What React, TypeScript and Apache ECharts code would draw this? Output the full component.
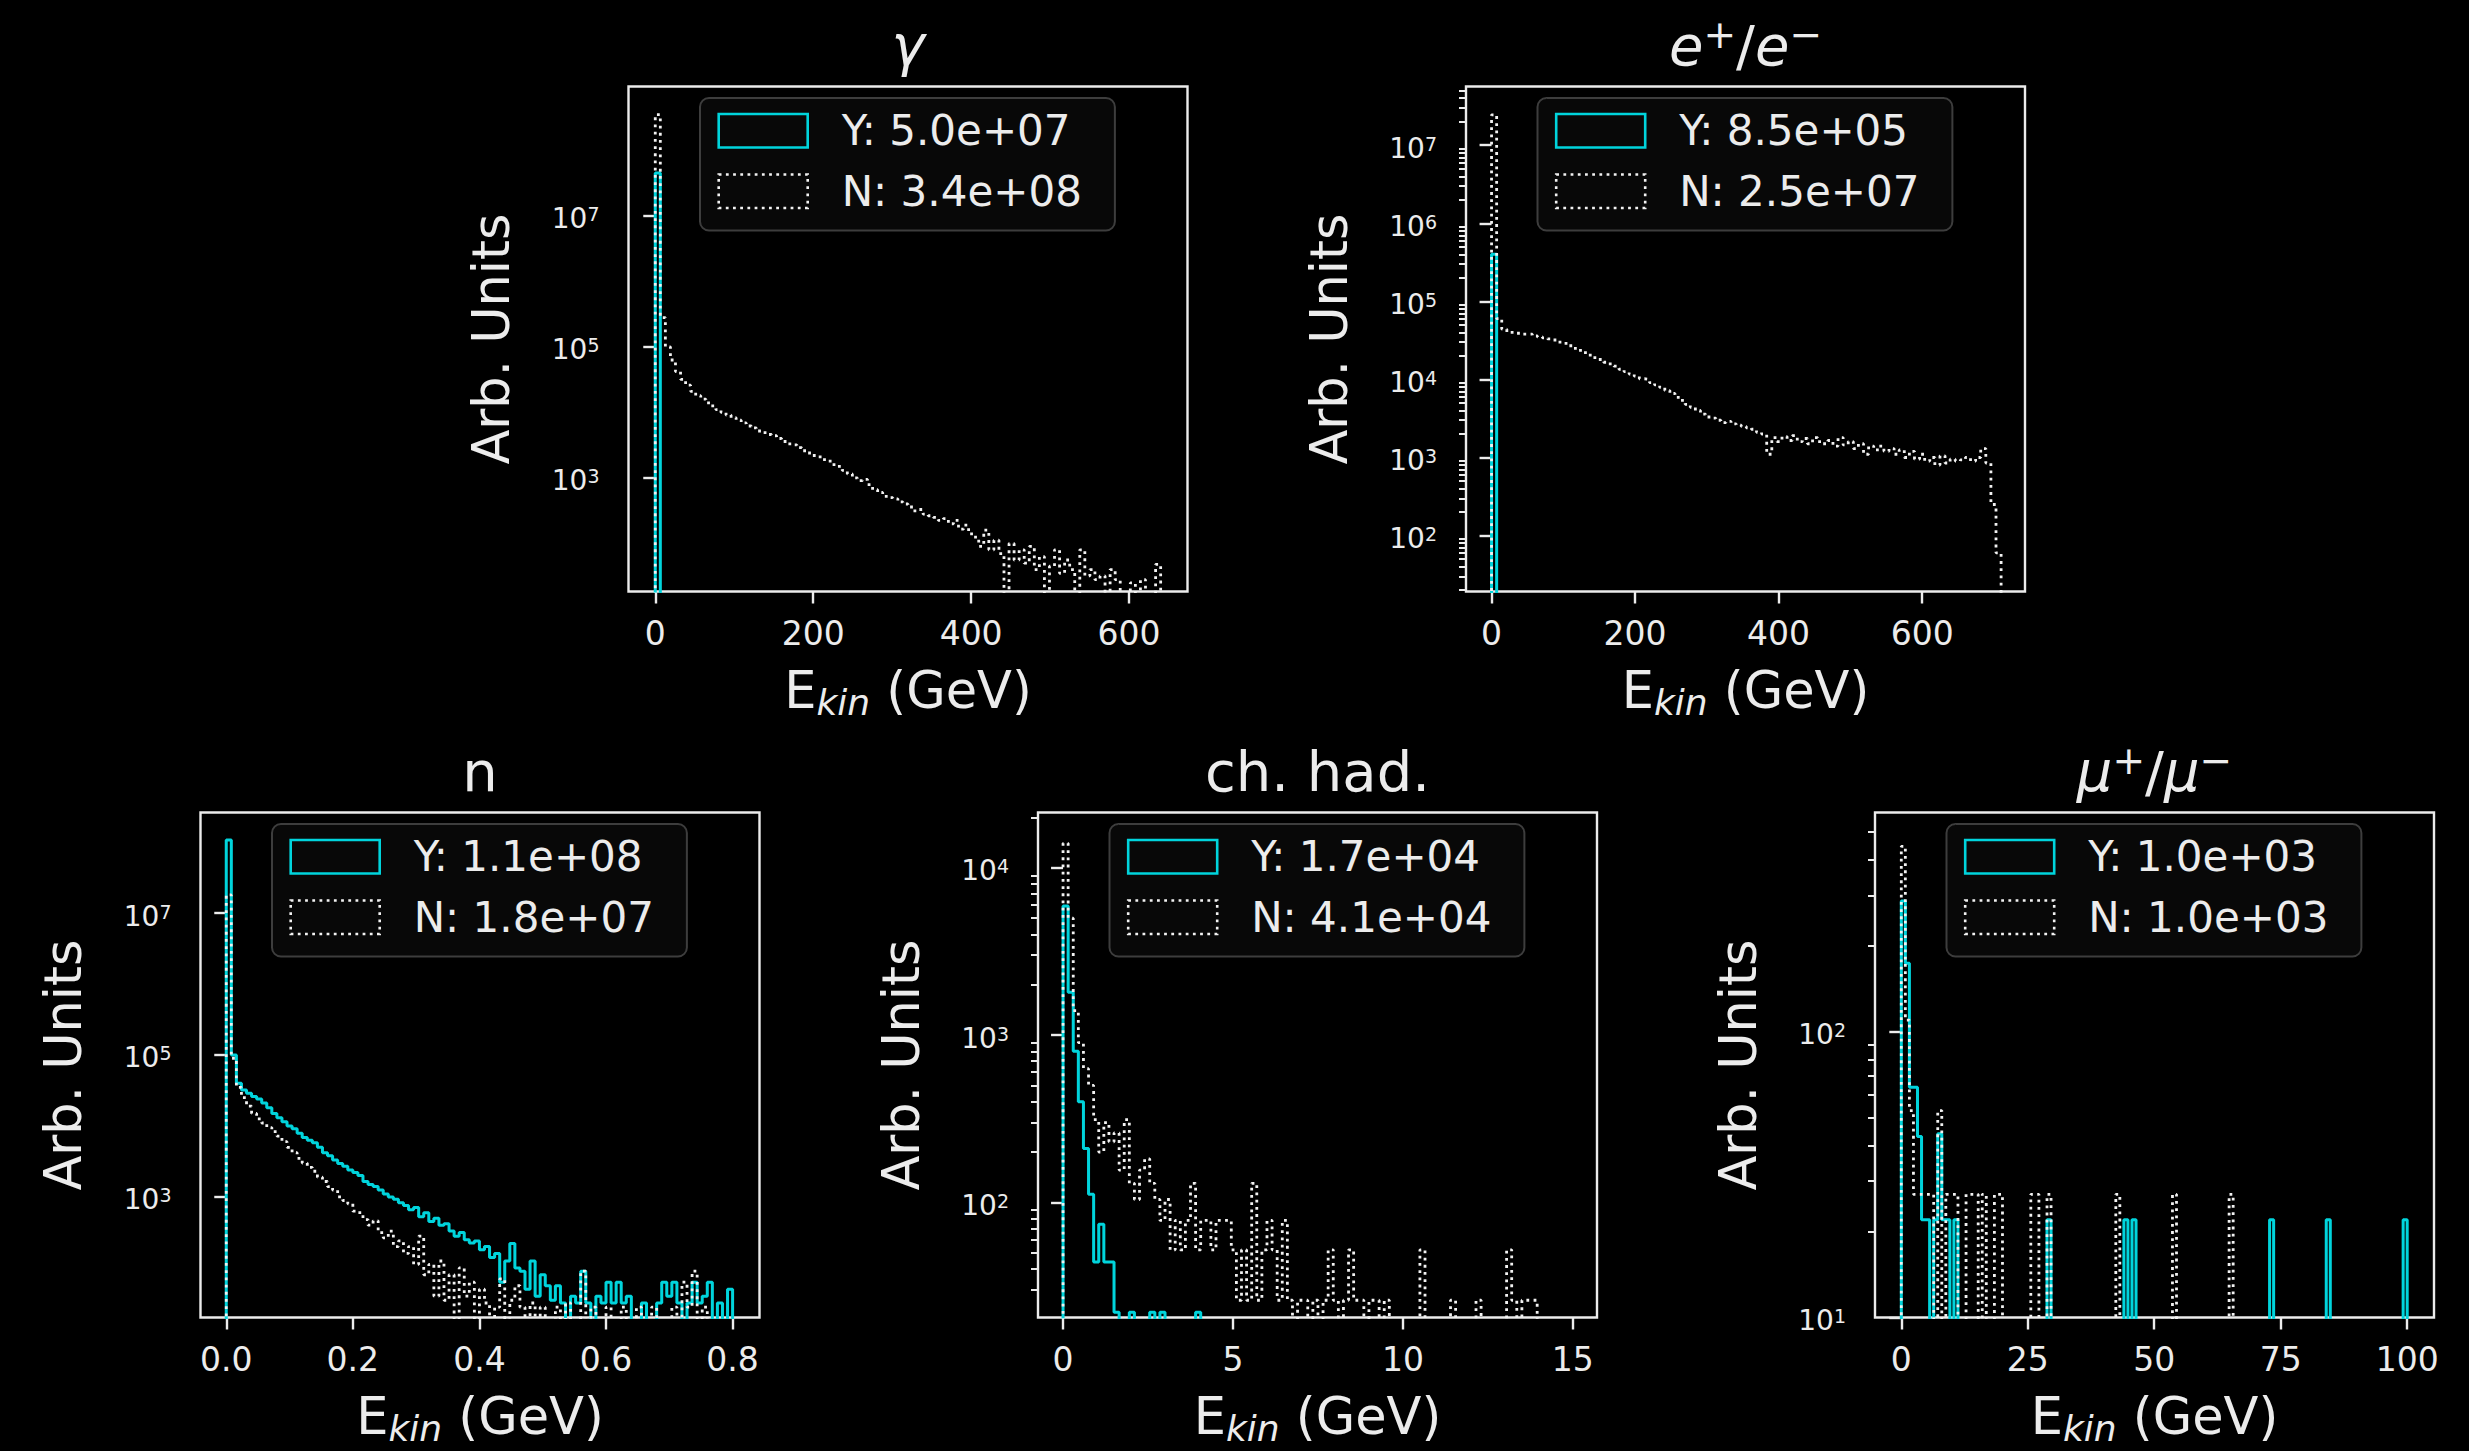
import React, { useEffect, useRef } from 'react';
import * as echarts from 'echarts';

const WIDTH = 2469;
const HEIGHT = 1451;

// ---------------- data: histogram bin contents ----------------
// photons, bins of 6.4 GeV starting at 0
const gammaBinWidth = 6.4;
const gammaY = [4.5e7];
const gammaN = [
  3.5e8, 2.8e5, 1.0e5, 6.3e4, 4.2e4, 3.2e4, 2.6e4, 2.1e4, 1.8e4, 1.6e4,
  1.4e4, 1.26e4, 1.1e4, 1.0e4, 9.1e3, 8.3e3, 7.6e3, 6.9e3, 6.2e3, 5.8e3,
  5.2e3, 4.9e3, 4.6e3, 4.4e3, 4.0e3, 3.6e3, 3.3e3, 3.2e3, 2.9e3, 2.6e3,
  2.4e3, 2.2e3, 2.1e3, 1.9e3, 1.8e3, 1.6e3, 1.5e3, 1.3e3, 1.15e3, 1.0e3,
  910, 950, 790, 660, 600, 525, 500, 480, 430, 400,
  360, 315, 330, 280, 265, 250, 225, 240, 200, 225,
  165, 190, 140, 125, 90, 160, 80, 112, 70, 0,
  100, 56, 80, 50, 90, 40, 63, 0, 45, 80,
  35, 56, 40, 0, 80, 32, 40, 28, 32, 0,
  40, 28, 0, 0, 25, 0, 28, 0, 0, 48,
];

// electrons / positrons, bins of 7.1 GeV
const eeBinWidth = 7.1;
const eeY = [4.0e5];
const eeN = [
  2.45e7, 6.0e4, 4.4e4, 4.0e4, 4.0e4, 3.9e4, 3.8e4, 3.8e4, 3.6e4, 3.5e4,
  3.4e4, 3.3e4, 3.2e4, 3.0e4, 2.9e4, 2.7e4, 2.5e4, 2.35e4, 2.2e4, 2.05e4,
  1.9e4, 1.8e4, 1.66e4, 1.58e4, 1.48e4, 1.35e4, 1.26e4, 1.17e4, 1.1e4, 1.02e4,
  1.0e4, 9.1e3, 8.5e3, 7.9e3, 7.2e3, 6.6e3, 5.9e3, 5.4e3, 4.8e3, 4.4e3,
  4.0e3, 3.6e3, 3.3e3, 3.2e3, 3.0e3, 2.8e3, 2.9e3, 2.7e3, 2.6e3, 2.5e3,
  2.4e3, 2.3e3, 2.1e3, 2.0e3, 1.1e3, 1.8e3, 1.6e3, 1.85e3, 1.65e3, 1.9e3,
  1.6e3, 1.75e3, 1.5e3, 1.8e3, 1.6e3, 1.5e3, 1.65e3, 1.4e3, 1.8e3, 1.45e3,
  1.6e3, 1.3e3, 1.5e3, 1.1e3, 1.4e3, 1.25e3, 1.4e3, 1.2e3, 1.3e3, 1.1e3,
  1.25e3, 1.0e3, 1.2e3, 950, 1.1e3, 900, 1.0e3, 800, 1.05e3, 850,
  950, 900, 930, 1.0e3, 900, 1.0e3, 1.3e3, 850, 250, 60,
];

// neutrons, bins of 0.008 GeV
const nBinWidth = 0.008;
const nY = [
  1.07e8, 1.0e5, 4.0e4, 3.2e4, 2.9e4, 2.6e4, 2.4e4, 2.1e4, 1.8e4, 1.5e4,
  1.3e4, 1.15e4, 1.0e4, 9.1e3, 7.9e3, 6.9e3, 6.3e3, 5.8e3, 5.0e3, 4.2e3,
  3.8e3, 3.3e3, 2.95e3, 2.7e3, 2.4e3, 2.2e3, 2.0e3, 1.65e3, 1.5e3, 1.4e3,
  1.25e3, 1.1e3, 1.0e3, 930, 830, 760, 660, 710, 525, 600,
  450, 500, 400, 420, 330, 280, 315, 250, 225, 240,
  180, 200, 140, 160, 63, 125, 220, 100, 90, 50,
  125, 40, 80, 56, 35, 56, 32, 0, 40, 32,
  90, 32, 0, 40, 32, 63, 32, 63, 32, 40,
  0, 0, 32, 0, 0, 32, 63, 40, 63, 32,
  0, 32, 63, 32, 40, 63, 0, 32, 0, 50,
];
const nN = [
  1.8e7, 9.0e4, 3.5e4, 2.5e4, 1.9e4, 1.5e4, 1.26e4, 1.1e4, 9.5e3, 8.3e3,
  7.2e3, 6.0e3, 5.0e3, 4.2e3, 3.5e3, 3.0e3, 2.6e3, 2.3e3, 1.9e3, 1.65e3,
  1.4e3, 1.25e3, 1.0e3, 890, 800, 630, 600, 480, 400, 460,
  315, 265, 330, 200, 240, 160, 200, 112, 280, 80,
  112, 40, 125, 35, 80, 0, 100, 40, 63, 0,
  50, 32, 0, 28, 70, 0, 35, 56, 28, 0,
  32, 0, 28, 0, 0, 28, 0, 32, 0, 0,
  90, 0, 28, 0, 0, 28, 0, 0, 28, 0,
  0, 28, 0, 0, 28, 0, 0, 0, 28, 0,
  63, 28, 90, 0, 28,
];

// charged hadrons, bins of 0.15 GeV
const chBinWidth = 0.15;
const chY = [
  5900, 1800, 800, 400, 210, 112, 44, 74, 44, 44,
  22, 0, 0, 22, 0, 0, 0, 22, 0, 22,
  0, 0, 0, 0, 0, 0, 22,
];
const chN = [
  1.4e4, 5000, 1400, 900, 630, 500, 312, 200, 300, 230,
  260, 156, 312, 130, 104, 156, 182, 130, 104, 78,
  104, 52, 78, 52, 78, 130, 52, 78, 78, 52,
  78, 78, 78, 52, 26, 52, 26, 130, 26, 52,
  78, 52, 26, 78, 26, 0, 26, 26, 0, 26,
  0, 26, 52, 26, 0, 26, 52, 26, 26, 0,
  26, 26, 0, 26, 0, 0, 0, 0, 0, 0,
  52, 0, 0, 0, 0, 0, 26, 0, 0, 0,
  0, 26, 0, 0, 0, 0, 0, 52, 26, 0,
  26, 26, 26,
];

// muons, bins of 0.8 GeV
const muBinWidth = 0.8;
const muY = [
  287, 174, 64, 64, 43, 22, 22, 0, 22, 44, 22, 22, 0, 22, 0, 0, 0, 0, 0, 0, 0, 0, 0, 0, 0,
  0, 0, 0, 0, 0, 0, 0, 0, 0, 0, 0, 22, 0, 0, 0, 0, 0, 0, 0, 0, 0, 0, 0, 0, 0,
  0, 0, 0, 0, 0, 22, 0, 22, 0, 0, 0, 0, 0, 0, 0, 0, 0, 0, 0, 0, 0, 0, 0, 0, 0,
  0, 0, 0, 0, 0, 0, 0, 0, 0, 0, 0, 0, 0, 0, 0, 0, 22, 0, 0, 0, 0, 0, 0, 0, 0,
  0, 0, 0, 0, 0, 22, 0, 0, 0, 0, 0, 0, 0, 0, 0, 0, 0, 0, 0, 0, 0, 0, 0, 0, 22,
];
const muN = [
  446, 110, 53, 27, 27, 27, 27, 27, 0, 53, 0, 27, 27, 27, 0, 0, 27, 27, 27, 0, 27, 0, 0, 27, 27,
  0, 0, 0, 0, 0, 0, 0, 27, 27, 0, 0, 27, 0, 0, 0, 0, 0, 0, 0, 0, 0, 0, 0, 0, 0,
  0, 0, 0, 27, 0, 0, 0, 0, 0, 0, 0, 0, 0, 0, 0, 0, 0, 27, 0, 0, 0, 0, 0, 0, 0,
  0, 0, 0, 0, 0, 0, 27,
];

// ---------------- labels / ticks ----------------
const panelTitles = [
  '{i|γ}',
  '{i|e}{s|+}{n|/}{i|e}{s|−}',
  '{n|n}',
  '{n|ch. had.}',
  '{i|μ}{s|+}{n|/}{i|μ}{s|−}',
];
const legendY = ['Y: 5.0e+07', 'Y: 8.5e+05', 'Y: 1.1e+08', 'Y: 1.7e+04', 'Y: 1.0e+03'];
const legendN = ['N: 3.4e+08', 'N: 2.5e+07', 'N: 1.8e+07', 'N: 4.1e+04', 'N: 1.0e+03'];
const xTicks = [
  [0, 200, 400, 600],
  [0, 200, 400, 600],
  [0, 0.2, 0.4, 0.6, 0.8],
  [0, 5, 10, 15],
  [0, 25, 50, 75, 100],
];
const xDecimals = [0, 0, 1, 0, 0];
const yMajor = [
  [1e3, 1e5, 1e7],
  [1e2, 1e3, 1e4, 1e5, 1e6, 1e7],
  [1e3, 1e5, 1e7],
  [1e2, 1e3, 1e4],
  [1e1, 1e2],
];
const hasMinor = [false, true, false, true, true];
const xRange = [
  [-33.9, 674],
  [-35.6, 743.3],
  [-0.0407, 0.8425],
  [-0.737, 15.71],
  [-5.2, 105.3],
];
const yRange = [
  [18.5, 9.4e8],
  [19.2, 5.65e7],
  [20.0, 2.61e8],
  [20.5, 2.14e4],
  [10, 586],
];

// ---------------- layout / style ----------------
const FRAMES = [
  [628.5, 86.5],
  [1466, 86.5],
  [200.5, 812.5],
  [1038, 812.5],
  [1875, 812.5],
];
const FW = 559;
const FH = 505;
const FONT = 'DejaVu Sans';
const FG = '#ececec';
const CYAN = '#00d4dc';
const DOTC = '#f2f2f2';
const DASH = [2.8, 4.4];

const panels = [
  { w: gammaBinWidth, y: gammaY, n: gammaN },
  { w: eeBinWidth, y: eeY, n: eeN },
  { w: nBinWidth, y: nY, n: nN },
  { w: chBinWidth, y: chY, n: chN },
  { w: muBinWidth, y: muY, n: muN },
];

// outline of a step histogram: left edge up, across each bin, last edge down
function stepPoints(width: number, vals: number[]): number[][] {
  const floor = 1; // empty bins fall below the visible range
  const v = (x: number) => (x > 0 ? x : floor);
  const pts: number[][] = [[0, floor]];
  vals.forEach((c, i) => pts.push([i * width, v(c)]));
  const end = vals.length * width;
  pts.push([end, v(vals[vals.length - 1])]);
  pts.push([end, floor]);
  return pts;
}

function minorTicks(range: number[]): number[] {
  const out: number[] = [];
  const d0 = Math.floor(Math.log10(range[0]));
  const d1 = Math.ceil(Math.log10(range[1]));
  for (let d = d0; d <= d1; d++) {
    for (let k = 2; k <= 9; k++) {
      const v = k * Math.pow(10, d);
      if (v >= range[0] && v <= range[1]) out.push(v);
    }
  }
  return out;
}

function buildOption() {
  const titles = panelTitles.map((t, i) => ({
    text: t,
    left: FRAMES[i][0] + FW / 2,
    top: FRAMES[i][1] - 71.4,
    textAlign: 'center',
    padding: 0,
    textStyle: {
      color: FG,
      fontFamily: FONT,
      fontWeight: 'normal',
      rich: {
        i: { fontSize: 56, fontStyle: 'italic', fontWeight: 'normal', lineHeight: 60, color: FG, fontFamily: FONT, verticalAlign: 'middle' },
        n: { fontSize: 56, fontWeight: 'normal', lineHeight: 60, color: FG, fontFamily: FONT, verticalAlign: 'middle' },
        s: { fontSize: 39, fontWeight: 'normal', lineHeight: 32, color: FG, fontFamily: FONT, verticalAlign: 'top' },
      },
    },
  }));

  const legends = panels.map((_, i) => ({
    orient: 'vertical',
    left: FRAMES[i][0] + 71.5,
    top: FRAMES[i][1] + 11.5,
    padding: [11.8, 33, 18.3, 17.4],
    itemWidth: 89,
    itemHeight: 33.5,
    itemGap: 18.4,
    selectedMode: false,
    backgroundColor: '#080808',
    borderColor: '#3d3d3d',
    borderWidth: 2,
    borderRadius: 9,
    formatter: '{t|{name}}',
    textStyle: {
      color: FG,
      fontFamily: FONT,
      rich: { t: { fontSize: 42, lineHeight: 44, padding: [0, 0, 0, 29], color: FG, fontFamily: FONT } },
    },
    data: [
      { name: legendY[i], icon: 'rect', itemStyle: { color: 'transparent', borderColor: CYAN, borderWidth: 2.6 } },
      { name: legendN[i], icon: 'rect', itemStyle: { color: 'transparent', borderColor: DOTC, borderWidth: 2.6, borderType: DASH } },
    ],
  }));

  const grids = panels.map((_, i) => ({
    left: FRAMES[i][0],
    top: FRAMES[i][1],
    width: FW,
    height: FH,
    show: true,
    borderColor: FG,
    borderWidth: 2.4,
    backgroundColor: 'transparent',
    containLabel: false,
    outerBoundsMode: 'none',
  }));

  const xAxes = panels.map((_, i) => ({
    type: 'value',
    gridIndex: i,
    position: 'bottom',
    min: xRange[i][0],
    max: xRange[i][1],
    axisLine: { show: false },
    splitLine: { show: false },
    axisTick: { show: true, customValues: xTicks[i], length: 12, lineStyle: { color: FG, width: 2.4 } },
    axisLabel: {
      customValues: xTicks[i],
      formatter: (v: number) => v.toFixed(xDecimals[i]),
      margin: 25,
      fontSize: 33,
      lineHeight: 34,
      color: FG,
      fontFamily: FONT,
    },
    name: '{e|E}{k|kin}{e| (GeV)}',
    nameLocation: 'middle',
    nameGap: 69,
    nameTextStyle: {
      color: FG,
      fontFamily: FONT,
      rich: {
        e: { fontSize: 51, lineHeight: 60, color: FG, fontFamily: FONT, verticalAlign: 'middle' },
        k: { fontSize: 36, fontStyle: 'italic', lineHeight: 34, color: FG, fontFamily: FONT, verticalAlign: 'bottom' },
      },
    },
  }));

  const yMain = panels.map((_, i) => ({
    type: 'log',
    logBase: 10,
    gridIndex: i,
    position: 'left',
    min: yRange[i][0],
    max: yRange[i][1],
    axisLine: { show: false },
    splitLine: { show: false },
    minorTick: { show: false },
    axisTick: { show: true, customValues: yMajor[i], length: 12, lineStyle: { color: FG, width: 2.4 } },
    axisLabel: {
      customValues: yMajor[i],
      margin: 29,
      formatter: (v: number) => `{b|10}{s|${Math.round(Math.log10(v))}}`,
      rich: {
        b: { fontSize: 28, lineHeight: 34, padding: [6, 0, 0, 0], color: FG, fontFamily: FONT },
        s: { fontSize: 19, lineHeight: 15, padding: [6, 0, 0, 0], verticalAlign: 'top', color: FG, fontFamily: FONT },
      },
    },
    name: 'Arb. Units',
    nameLocation: 'middle',
    nameGap: 109,
    nameTextStyle: { fontSize: 51, lineHeight: 56, color: FG, fontFamily: FONT },
  }));

  const yMinor: any[] = [];
  panels.forEach((_, i) => {
    if (!hasMinor[i]) return;
    yMinor.push({
      type: 'log',
      logBase: 10,
      gridIndex: i,
      position: 'left',
      min: yRange[i][0],
      max: yRange[i][1],
      axisLine: { show: false },
      splitLine: { show: false },
      axisLabel: { show: false },
      axisTick: { show: true, customValues: minorTicks(yRange[i]), length: 7, lineStyle: { color: FG, width: 2 } },
    });
  });

  const series: any[] = [];
  panels.forEach((p, i) => {
    series.push({
      type: 'line',
      name: legendY[i],
      xAxisIndex: i,
      yAxisIndex: i,
      data: stepPoints(p.w, p.y),
      step: 'end',
      symbol: 'none',
      showSymbol: false,
      silent: true,
      clip: true,
      z: 2,
      lineStyle: { color: CYAN, width: 3, type: 'solid' },
      itemStyle: { color: CYAN },
      emphasis: { disabled: true },
    });
    series.push({
      type: 'line',
      name: legendN[i],
      xAxisIndex: i,
      yAxisIndex: i,
      data: stepPoints(p.w, p.n),
      step: 'end',
      symbol: 'none',
      showSymbol: false,
      silent: true,
      clip: true,
      z: 3,
      lineStyle: { color: DOTC, width: 2.8, type: DASH },
      itemStyle: { color: DOTC },
      emphasis: { disabled: true },
    });
  });

  return {
    backgroundColor: '#000000',
    animation: false,
    textStyle: { fontFamily: FONT },
    tooltip: { show: false },
    title: titles,
    legend: legends,
    grid: grids,
    xAxis: xAxes,
    yAxis: [...yMain, ...yMinor],
    series,
  };
}

export default function App() {
  const ref = useRef<HTMLDivElement>(null);
  useEffect(() => {
    document.body.style.margin = '0';
    document.body.style.background = '#000';
    const chart = echarts.init(ref.current as HTMLDivElement, undefined, {
      renderer: 'svg',
      width: WIDTH,
      height: HEIGHT,
    });
    chart.setOption(buildOption() as any);
    return () => chart.dispose();
  }, []);
  return (
    <div
      ref={ref}
      style={{ position: 'fixed', left: 0, top: 0, width: WIDTH, height: HEIGHT, background: '#000' }}
    />
  );
}
